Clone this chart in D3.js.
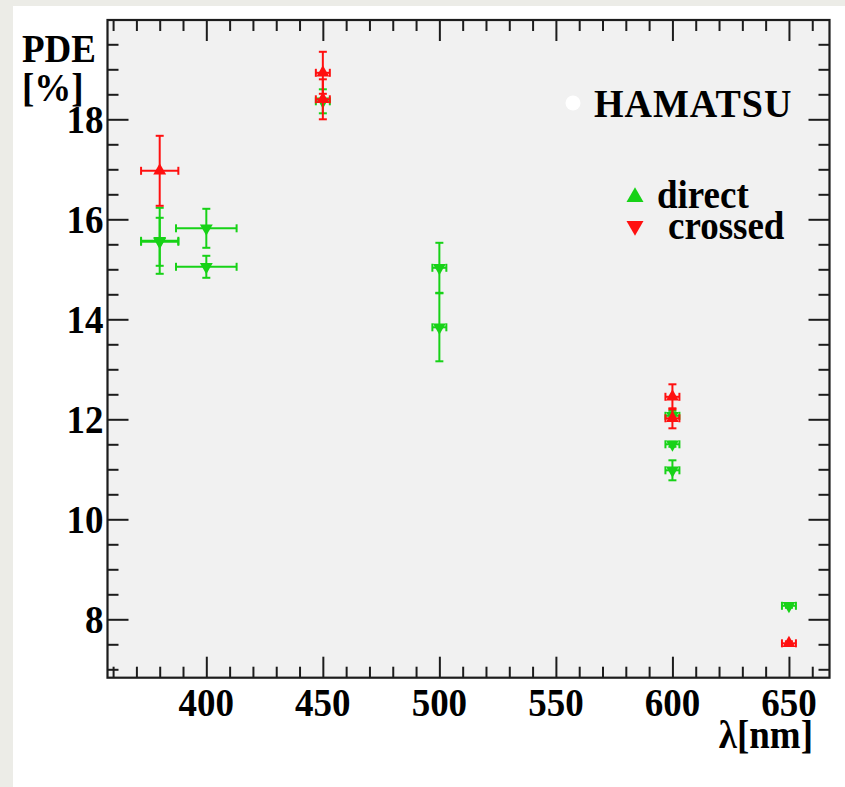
<!DOCTYPE html>
<html>
<head>
<meta charset="utf-8">
<script src="https://cdn.jsdelivr.net/npm/d3@7"></script>
<style>
  html, body { margin: 0; padding: 0; background: #ecece7; }
  svg { display: block; }
  text { font-family: "Liberation Serif", "Times New Roman", serif; font-weight: bold; fill: #000; }
</style>
</head>
<body>
<script>
// Photon detection efficiency vs. wavelength, two illumination geometries
const lambdaTicks = [400, 450, 500, 550, 600, 650];
const pdeTicks = [8, 10, 12, 14, 16, 18];

// "direct" measurements
const directLambda    = [380, 380, 400, 400, 450, 500, 500, 600, 600, 600, 650];
const directLambdaErr = [8, 8, 13, 13, 3, 3, 3, 3, 3, 3, 3];
const directPDE       = [15.57, 15.55, 15.82, 15.05, 18.36, 15.03, 13.84, 12.07, 11.50, 10.98, 8.27];
const directPDEErr    = [0.66, 0.48, 0.39, 0.22, 0.24, 0.50, 0.68, 0.10, 0.05, 0.20, 0.04];

// "crossed" measurements
const crossedLambda    = [380, 450, 450, 600, 600, 650];
const crossedLambdaErr = [8, 3, 3, 3, 3, 3];
const crossedPDE       = [16.97, 18.93, 18.40, 12.45, 12.02, 7.52];
const crossedPDEErr    = [0.70, 0.42, 0.40, 0.25, 0.20, 0.04];

const legendLabels = ["HAMATSU", "direct", "crossed"];
const green = "#17d217";
const red = "#ff1010";

const W = 845, H = 787;
const svg = d3.select("body").append("svg").attr("width", W).attr("height", H);

// white page
svg.append("rect").attr("x", 13).attr("y", 6).attr("width", W - 13).attr("height", H - 6).attr("fill", "#fff");

const frame = { left: 107.5, right: 829.5, top: 20, bottom: 677.7 };
const x = d3.scaleLinear().domain([357.6, 667.4]).range([frame.left, frame.right]);
const y = d3.scaleLinear().domain([6.832, 19.986]).range([frame.bottom, frame.top]);

svg.append("rect")
  .attr("x", frame.left).attr("y", frame.top)
  .attr("width", frame.right - frame.left).attr("height", frame.bottom - frame.top)
  .attr("fill", "#f1f1f1");

const minorX = d3.range(360, 661, 10).filter(v => v % 50 !== 0);
const minorY = d3.range(7, 19.6, 0.5).filter(v => v % 2 !== 0);
const axisColor = "#1c1c1c";

function tickAxis(gen, pos, values, size) {
  const g = svg.append("g").attr("transform", pos)
    .call(gen.tickValues(values).tickSize(size).tickFormat(""));
  g.select(".domain").remove();
  g.selectAll(".tick line").attr("stroke", axisColor).attr("stroke-width", 2);
  return g;
}
const MAJ = 21, MIN = 11;
// inward ticks on all four sides
tickAxis(d3.axisBottom(x), `translate(0,${frame.bottom})`, lambdaTicks, -MAJ);
tickAxis(d3.axisBottom(x), `translate(0,${frame.bottom})`, minorX, -MIN);
tickAxis(d3.axisTop(x), `translate(0,${frame.top})`, lambdaTicks, -MAJ);
tickAxis(d3.axisTop(x), `translate(0,${frame.top})`, minorX, -MIN);
tickAxis(d3.axisLeft(y), `translate(${frame.left},0)`, pdeTicks, -MAJ);
tickAxis(d3.axisLeft(y), `translate(${frame.left},0)`, minorY, -MIN);
tickAxis(d3.axisRight(y), `translate(${frame.right},0)`, pdeTicks, -MAJ);
tickAxis(d3.axisRight(y), `translate(${frame.right},0)`, minorY, -MIN);

svg.append("rect")
  .attr("x", frame.left).attr("y", frame.top)
  .attr("width", frame.right - frame.left).attr("height", frame.bottom - frame.top)
  .attr("fill", "none").attr("stroke", axisColor).attr("stroke-width", 2.2);

// text helper: slightly tall serif glyphs
const fs = 37, stretch = 1.07;
function label(parent, tx, ty, str, anchor, size) {
  return parent.append("text")
    .attr("transform", `translate(${tx},${ty}) scale(1,${stretch})`)
    .attr("text-anchor", anchor || "start")
    .attr("font-size", size || fs)
    .text(str);
}

// tick labels
const xl = svg.append("g");
lambdaTicks.forEach(d => label(xl, x(d), 716, d, "middle"));
const yl = svg.append("g");
pdeTicks.forEach(d => label(yl, 103.5, y(d) + 14, d, "end"));

// axis titles
label(svg, 22, 61.5, "PDE");
label(svg, 22, 101, "[%]");
label(svg, 813, 748, "λ[nm]", "end");

// error bars + markers
function drawSeries(lam, lamErr, val, valErr, color, symbolRotation) {
  const g = svg.append("g");
  const pts = lam.map((l, i) => ({ l, el: lamErr[i], v: val[i], ev: valErr[i] }));
  const cap = 4;
  pts.forEach(p => {
    const cx = x(p.l), cy = y(p.v);
    const y0 = y(p.v - p.ev), y1 = y(p.v + p.ev);
    const x0 = x(p.l - p.el), x1 = x(p.l + p.el);
    const segs = [
      [cx, y0, cx, y1], [cx - cap, y0, cx + cap, y0], [cx - cap, y1, cx + cap, y1],
      [x0, cy, x1, cy], [x0, cy - cap, x0, cy + cap], [x1, cy - cap, x1, cy + cap]
    ];
    segs.forEach(s => g.append("line")
      .attr("x1", s[0]).attr("y1", s[1]).attr("x2", s[2]).attr("y2", s[3])
      .attr("stroke", color).attr("stroke-width", 2));
  });
  g.selectAll("path").data(pts).join("path")
    .attr("d", d3.symbol(d3.symbolTriangle, 72))
    .attr("transform", d => `translate(${x(d.l)},${y(d.v)}) rotate(${symbolRotation})`)
    .attr("fill", color);
}
drawSeries(directLambda, directLambdaErr, directPDE, directPDEErr, green, 180);
drawSeries(crossedLambda, crossedLambdaErr, crossedPDE, crossedPDEErr, red, 0);

// legend
const leg = svg.append("g");
leg.append("circle").attr("cx", 573).attr("cy", 103).attr("r", 7.5).attr("fill", "#fff");
label(leg, 594, 116.5, legendLabels[0], "start", 38).attr("letter-spacing", 1);
leg.append("path").attr("d", d3.symbol(d3.symbolTriangle, 125))
  .attr("transform", "translate(635,197)").attr("fill", green);
label(leg, 657, 207.5, legendLabels[1]);
leg.append("path").attr("d", d3.symbol(d3.symbolTriangle, 125))
  .attr("transform", "translate(635,226) rotate(180)").attr("fill", red);
label(leg, 668, 239, legendLabels[2]);
</script>
</body>
</html>
